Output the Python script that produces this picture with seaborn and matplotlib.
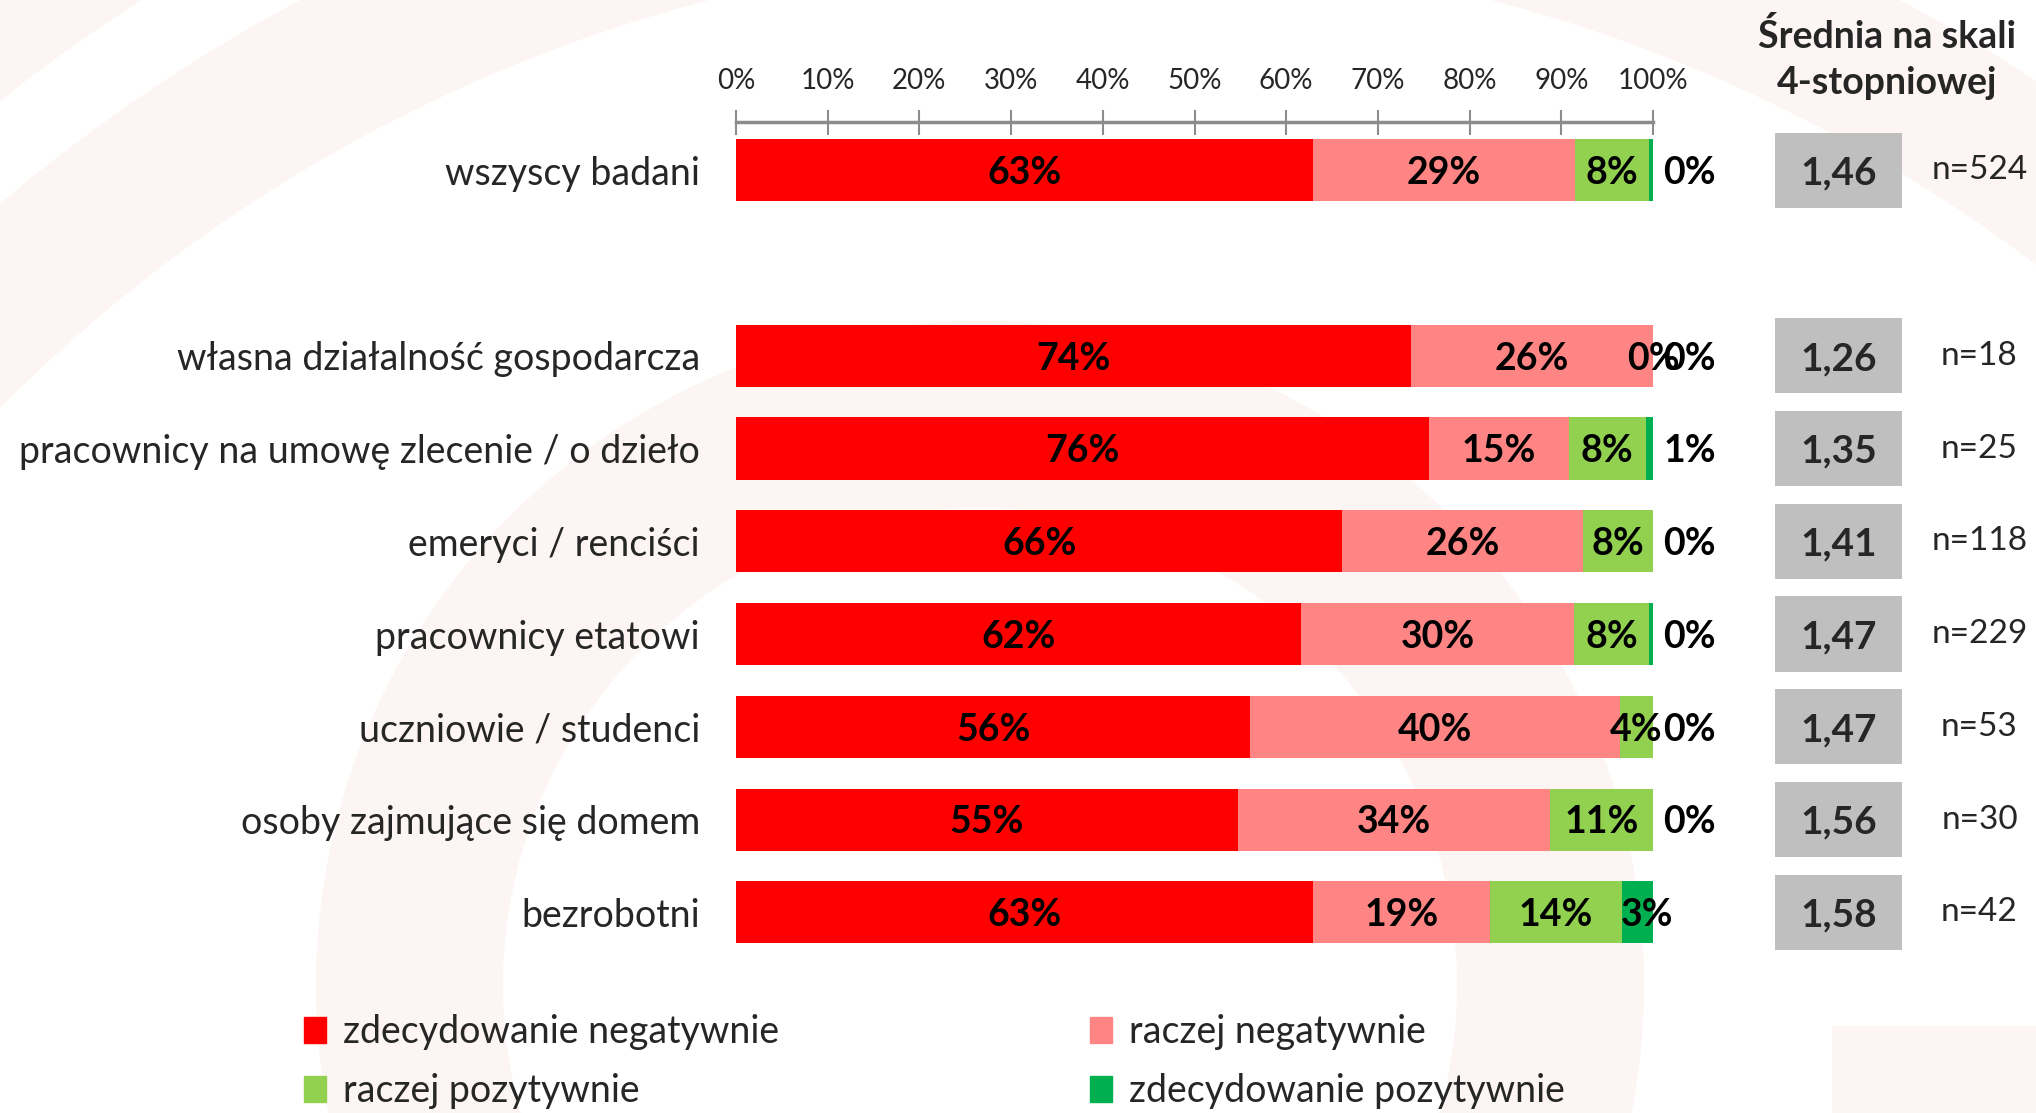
import numpy as np
import pandas as pd
import matplotlib.pyplot as plt
import seaborn as sns
from matplotlib.patches import Patch, Rectangle, Wedge

# Data (percent of respondents)
groups = [
    "wszyscy badani",
    "własna działalność gospodarcza",
    "pracownicy na umowę zlecenie / o dzieło",
    "emeryci / renciści",
    "pracownicy etatowi",
    "uczniowie / studenci",
    "osoby zajmujące się domem",
    "bezrobotni",
]
zdec_neg = [62.9, 73.6, 75.6, 66.1, 61.6, 56.1, 54.7, 62.9]
raczej_neg = [28.6, 26.4, 15.2, 26.3, 29.8, 40.3, 34.1, 19.3]
raczej_poz = [8.1, 0.0, 8.4, 7.6, 8.2, 3.6, 11.2, 14.4]
zdec_poz = [0.4, 0.0, 0.8, 0.0, 0.4, 0.0, 0.0, 3.4]
means = ["1,46", "1,26", "1,35", "1,41", "1,47", "1,47", "1,56", "1,58"]
n_sizes = [524, 18, 25, 118, 229, 53, 30, 42]

series_names = ["zdecydowanie negatywnie", "raczej negatywnie",
                "raczej pozytywnie", "zdecydowanie pozytywnie"]
colors = ["#FF0000", "#FF8585", "#92D050", "#00B050"]

# empty slot after the total row
order = [groups[0], ""] + groups[1:]

df = pd.DataFrame({"group": groups, "s0": zdec_neg, "s1": raczej_neg,
                   "s2": raczej_poz, "s3": zdec_poz})
df["c0"] = df["s0"]
df["c1"] = df["c0"] + df["s1"]
df["c2"] = df["c1"] + df["s2"]
df["c3"] = df["c2"] + df["s3"]

sns.set_style("white")
plt.rcParams["font.family"] = ["Lato", "DejaVu Sans"]

W, H = 2036, 1113
fig = plt.figure(figsize=(W / 100, H / 100), dpi=100)

# faint watermark rings in the background
bg = fig.add_axes([0, 0, 1, 1], zorder=0)
bg.set_xlim(0, W)
bg.set_ylim(H, 0)
bg.axis("off")
wm = "#FDF5F4"
bg.add_patch(Wedge((1100, 1500), 1700, 0, 360, width=150, color=wm, lw=0))
bg.add_patch(Wedge((1100, 1500), 2100, 0, 360, width=320, color=wm, lw=0))
bg.add_patch(Wedge((980, 985), 664, 0, 360, width=187, color=wm, lw=0))
bg.add_patch(Rectangle((1832, 1026), 300, 200, color=wm, lw=0))

y_top, y_bot = 122, 968
ax = fig.add_axes([736 / W, 1 - y_bot / H, (1653 - 736) / W, (y_bot - y_top) / H], zorder=2)
ax.patch.set_alpha(0)

# stacked bars: draw cumulative totals from the longest down
for k in [3, 2, 1, 0]:
    sns.barplot(data=df, x=f"c{k}", y="group", order=order, orient="h",
                color=colors[k], saturation=1, width=0.67, linewidth=0,
                errorbar=None, label=series_names[k], ax=ax)

ax.set_xlim(0, 100)
ax.set_ylim(8.6, -0.52)
ax.set_xlabel("")
ax.set_ylabel("")
ax.xaxis.tick_top()
ax.set_xticks(range(0, 101, 10))
ax.set_xticklabels([f"{t}%" for t in range(0, 101, 10)])
ax.tick_params(axis="x", direction="inout", length=18, width=1.5, color="#8C8C8C",
               labelsize=20, pad=11, top=True, bottom=False)
ax.tick_params(axis="y", length=0, labelsize=27, pad=26)
for s in ["left", "right", "bottom"]:
    ax.spines[s].set_visible(False)
ax.spines["top"].set_color("#8C8C8C")
ax.spines["top"].set_linewidth(2.5)
if ax.get_legend() is not None:
    ax.get_legend().remove()

# value labels
ypos = {g: order.index(g) for g in groups}
for i, g in enumerate(groups):
    y = ypos[g] + 0.03
    segs = [zdec_neg[i], raczej_neg[i], raczej_poz[i], zdec_poz[i]]
    left = 0
    for k, v in enumerate(segs):
        if k == 3 and v < 2:
            x = 104
        elif k == 3:
            x = left + v / 2 + 1
        else:
            x = left + v / 2
        ax.text(x, y, f"{round(v)}%", ha="center", va="center",
                fontsize=27, fontweight="bold", color="black", clip_on=False)
        left += v

# mean boxes + sample sizes
ax2 = fig.add_axes([1775 / W, 1 - y_bot / H, (1902 - 1775) / W, (y_bot - y_top) / H], zorder=2)
ax2.set_xlim(0, 1)
ax2.set_ylim(8.6, -0.52)
ax2.axis("off")
for i, g in enumerate(groups):
    y = ypos[g]
    ax2.add_patch(Rectangle((0, y - 0.405), 1, 0.81, color="#BFBFBF", lw=0))
    ax2.text(0.5, y + 0.03, means[i], ha="center", va="center", fontsize=28,
             fontweight="bold")
    ax2.text(1.61, y, f"n={n_sizes[i]}", ha="center", va="center",
             fontsize=24, clip_on=False)

fig.text(1887 / W, 1 - 36 / H, "Średnia na skali", ha="center", va="center",
         fontsize=27, fontweight="bold")
fig.text(1887 / W, 1 - 83 / H, "4-stopniowej", ha="center", va="center",
         fontsize=27, fontweight="bold")

# legend: row 1 negatives, row 2 positives
handles = [Patch(color=c) for c in colors]
leg_order = [0, 2, 1, 3]
fig.legend([handles[j] for j in leg_order], [series_names[j] for j in leg_order],
           ncol=2, loc="upper left", bbox_to_anchor=(304 / W, 1 - 1014 / H),
           frameon=False, fontsize=27, handlelength=0.58, handleheight=0.68,
           handletextpad=0.45, columnspacing=8.3, labelspacing=0.62,
           borderaxespad=0, borderpad=0)

fig.savefig("out.png", dpi=100, facecolor="white")
